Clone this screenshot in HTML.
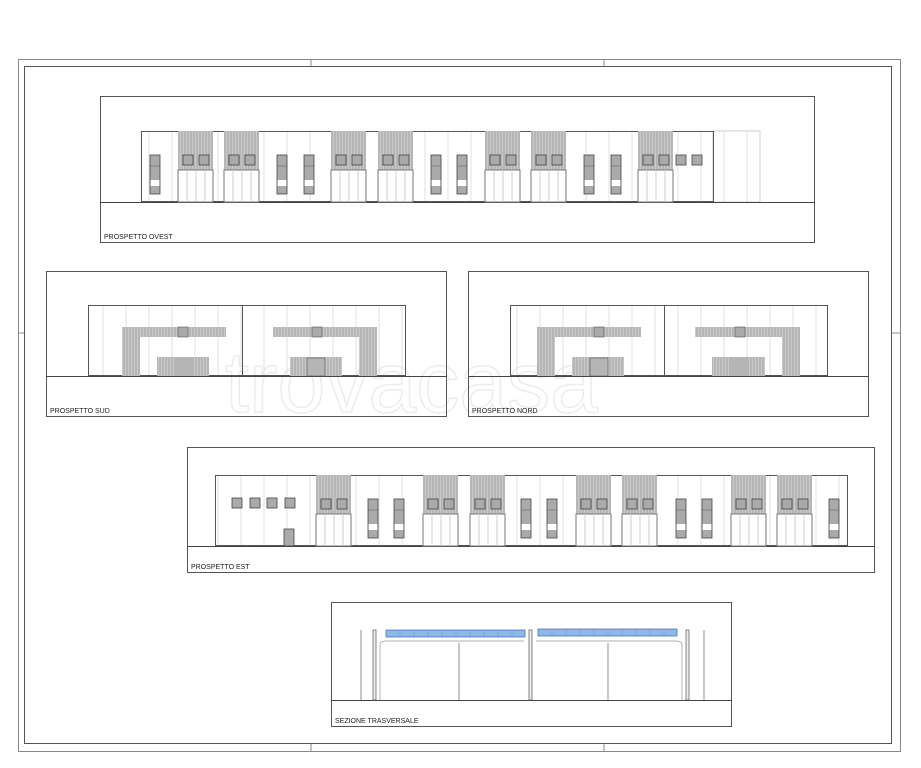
<!DOCTYPE html>
<html><head><meta charset="utf-8"><style>
html,body{margin:0;padding:0;background:#fff;}
svg{display:block;}
text{font-family:"Liberation Sans",sans-serif;font-size:7px;fill:#222;}
</style></head><body>
<svg width="921" height="768" viewBox="0 0 921 768" xmlns="http://www.w3.org/2000/svg">
<defs>
<pattern id="h" width="3" height="10" patternUnits="userSpaceOnUse">
<rect width="3" height="10" fill="#c9c9c9"/><line x1="1" y1="0" x2="1" y2="10" stroke="#9a9a9a" stroke-width="0.8"/>
</pattern>
<pattern id="v" width="23" height="10" patternUnits="userSpaceOnUse">
<line x1="11" y1="0" x2="11" y2="10" stroke="#e0e0e0" stroke-width="1"/>
</pattern>
<g id="door">
<rect x="0" y="0" width="35" height="39" fill="url(#h)"/>
<rect x="5" y="24" width="10" height="10" fill="#aaa" stroke="#444" stroke-width="0.8"/>
<rect x="21" y="24" width="10" height="10" fill="#aaa" stroke="#444" stroke-width="0.8"/>
<rect x="0" y="39" width="35" height="32" fill="#fff" stroke="#777" stroke-width="1"/>
<line x1="9" y1="39" x2="9" y2="71" stroke="#ccc"/><line x1="18" y1="39" x2="18" y2="71" stroke="#ccc"/><line x1="27" y1="39" x2="27" y2="71" stroke="#ccc"/>
</g>
<g id="win">
<rect x="0" y="24" width="10" height="39" fill="#aaa" stroke="#444" stroke-width="0.8"/>
<rect x="0.5" y="49" width="9" height="6" fill="#fff"/>
<line x1="0" y1="35" x2="10" y2="35" stroke="#666" stroke-width="0.6"/>
</g>
<g id="sq"><rect x="0" y="0" width="10" height="10" fill="#aaa" stroke="#444" stroke-width="0.8"/></g>
</defs>

<!-- outer frame -->
<rect x="18.5" y="59.5" width="882" height="692" fill="none" stroke="#888"/>
<rect x="24.5" y="66.5" width="867" height="677" fill="none" stroke="#555"/>
<g stroke="#888"><line x1="311" y1="59" x2="311" y2="66"/><line x1="604" y1="59" x2="604" y2="66"/><line x1="311" y1="744" x2="311" y2="752"/><line x1="604" y1="744" x2="604" y2="752"/><line x1="18" y1="333" x2="24" y2="333"/><line x1="892" y1="333" x2="901" y2="333"/></g>

<!-- watermark -->
<text x="225" y="412" style="font-size:86px;fill:none;stroke:#ececec;stroke-width:1.5">trovacasa</text>

<!-- Panel 1: PROSPETTO OVEST -->
<rect x="100.5" y="96.5" width="714" height="146" fill="none" stroke="#555"/>
<rect x="713" y="131" width="47" height="71" fill="url(#v)" stroke="#ccc"/>
<rect x="141.5" y="131.5" width="572" height="70" fill="url(#v)" stroke="#555"/>
<line x1="100" y1="202.5" x2="815" y2="202.5" stroke="#444"/>
<use href="#door" x="178" y="131"/><use href="#door" x="224" y="131"/><use href="#door" x="331" y="131"/><use href="#door" x="378" y="131"/><use href="#door" x="485" y="131"/><use href="#door" x="531" y="131"/><use href="#door" x="638" y="131"/>
<use href="#win" x="150" y="131"/><use href="#win" x="277" y="131"/><use href="#win" x="304" y="131"/><use href="#win" x="431" y="131"/><use href="#win" x="457" y="131"/><use href="#win" x="584" y="131"/><use href="#win" x="611" y="131"/>
<use href="#sq" x="676" y="155"/><use href="#sq" x="692" y="155"/>
<text x="104" y="239">PROSPETTO OVEST</text>

<!-- Panel 2: SUD -->
<rect x="46.5" y="271.5" width="400" height="145" fill="none" stroke="#555"/>
<rect x="88.5" y="305.5" width="317" height="70" fill="url(#v)" stroke="#555"/>
<line x1="242.5" y1="305" x2="242.5" y2="376" stroke="#555"/>
<line x1="46" y1="376.5" x2="447" y2="376.5" stroke="#444"/>
<rect x="122" y="327" width="104" height="10" fill="url(#h)"/><rect x="122" y="327" width="18" height="49" fill="url(#h)"/>
<rect x="178" y="327" width="10" height="10" fill="#aaa" stroke="#555" stroke-width="0.6"/>
<rect x="157" y="357" width="52" height="19" fill="url(#h)"/><rect x="175" y="357" width="18" height="19" fill="#b5b5b5"/>
<rect x="273" y="327" width="104" height="10" fill="url(#h)"/><rect x="359" y="327" width="18" height="49" fill="url(#h)"/>
<rect x="312" y="327" width="10" height="10" fill="#aaa" stroke="#555" stroke-width="0.6"/>
<rect x="290" y="357" width="52" height="19" fill="url(#h)"/><rect x="307" y="358" width="18" height="18" fill="#b5b5b5" stroke="#555" stroke-width="0.6"/>
<text x="50" y="413">PROSPETTO SUD</text>

<!-- Panel 3: NORD -->
<rect x="468.5" y="271.5" width="400" height="145" fill="none" stroke="#555"/>
<rect x="510.5" y="305.5" width="317" height="70" fill="url(#v)" stroke="#555"/>
<line x1="664.5" y1="305" x2="664.5" y2="376" stroke="#555"/>
<line x1="468" y1="376.5" x2="869" y2="376.5" stroke="#444"/>
<rect x="537" y="327" width="104" height="10" fill="url(#h)"/><rect x="537" y="327" width="18" height="49" fill="url(#h)"/>
<rect x="594" y="327" width="10" height="10" fill="#aaa" stroke="#555" stroke-width="0.6"/>
<rect x="572" y="357" width="52" height="19" fill="url(#h)"/><rect x="590" y="358" width="18" height="18" fill="#b5b5b5" stroke="#555" stroke-width="0.6"/>
<rect x="695" y="327" width="105" height="10" fill="url(#h)"/><rect x="782" y="327" width="18" height="49" fill="url(#h)"/>
<rect x="735" y="327" width="10" height="10" fill="#aaa" stroke="#555" stroke-width="0.6"/>
<rect x="712" y="357" width="53" height="19" fill="url(#h)"/><rect x="729" y="357" width="18" height="19" fill="#b5b5b5"/>
<text x="472" y="413">PROSPETTO NORD</text>

<!-- Panel 4: EST -->
<rect x="187.5" y="447.5" width="687" height="125" fill="none" stroke="#555"/>
<rect x="215.5" y="475.5" width="632" height="70" fill="url(#v)" stroke="#555"/>
<line x1="187" y1="546.5" x2="875" y2="546.5" stroke="#444"/>
<use href="#door" x="316" y="475"/><use href="#door" x="423" y="475"/><use href="#door" x="470" y="475"/><use href="#door" x="576" y="475"/><use href="#door" x="622" y="475"/><use href="#door" x="731" y="475"/><use href="#door" x="777" y="475"/>
<use href="#win" x="368" y="475"/><use href="#win" x="394" y="475"/><use href="#win" x="521" y="475"/><use href="#win" x="547" y="475"/><use href="#win" x="676" y="475"/><use href="#win" x="702" y="475"/><use href="#win" x="829" y="475"/>
<use href="#sq" x="232" y="498"/><use href="#sq" x="250" y="498"/><use href="#sq" x="267" y="498"/><use href="#sq" x="285" y="498"/>
<rect x="284" y="529" width="10" height="17" fill="#aaa" stroke="#444" stroke-width="0.8"/>
<text x="191" y="569">PROSPETTO EST</text>

<!-- Panel 5: SEZIONE -->
<rect x="331.5" y="602.5" width="400" height="124" fill="none" stroke="#555"/>
<line x1="331" y1="700.5" x2="732" y2="700.5" stroke="#444"/>
<g fill="#8fb8ea" stroke="#3d6aa8" stroke-width="0.7">
<rect x="386" y="630" width="139" height="7"/><rect x="538" y="629" width="139" height="7"/>
</g>
<g stroke="#6a8fc0" stroke-width="0.5"><line x1="400" y1="630" x2="400" y2="637"/><line x1="414" y1="630" x2="414" y2="637"/><line x1="428" y1="630" x2="428" y2="637"/><line x1="442" y1="630" x2="442" y2="637"/><line x1="456" y1="630" x2="456" y2="637"/><line x1="470" y1="630" x2="470" y2="637"/><line x1="484" y1="630" x2="484" y2="637"/><line x1="498" y1="630" x2="498" y2="637"/><line x1="512" y1="630" x2="512" y2="637"/><line x1="552" y1="629" x2="552" y2="636"/><line x1="566" y1="629" x2="566" y2="636"/><line x1="580" y1="629" x2="580" y2="636"/><line x1="594" y1="629" x2="594" y2="636"/><line x1="608" y1="629" x2="608" y2="636"/><line x1="622" y1="629" x2="622" y2="636"/><line x1="636" y1="629" x2="636" y2="636"/><line x1="650" y1="629" x2="650" y2="636"/><line x1="664" y1="629" x2="664" y2="636"/></g>
<g fill="#eee" stroke="#555" stroke-width="0.7">
<rect x="373" y="630" width="3" height="70"/><rect x="529" y="630" width="3" height="70"/><rect x="686" y="630" width="3" height="70"/>
</g>
<path d="M380 700 V645 Q380 641 386 641 H524 M536 641 H676 Q682 641 682 645 V700" fill="none" stroke="#999" stroke-width="0.7"/>
<g stroke="#444" stroke-width="0.6">
<line x1="361" y1="630" x2="361" y2="700"/><line x1="704" y1="630" x2="704" y2="700"/>
<line x1="459" y1="643" x2="459" y2="700"/><line x1="608" y1="643" x2="608" y2="700"/>
</g>
<text x="335" y="723">SEZIONE TRASVERSALE</text>
</svg>
</body></html>
